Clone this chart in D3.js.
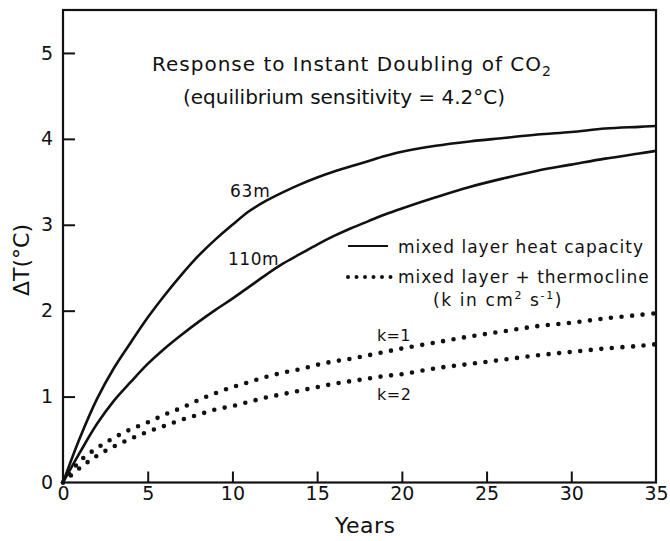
<!DOCTYPE html>
<html><head><meta charset="utf-8">
<script src="https://cdn.jsdelivr.net/npm/d3@7"></script>
<style>
body{margin:0;background:#fff}
text{font-family:"DejaVu Sans",sans-serif;fill:#111}
</style>
</head><body><svg id="c" width="670" height="541"></svg>
<script>
const years    = [0,1,2,3,4,5,6,7,8,9,10,11,12,13,14,15,16,17,18,19,20,22,24,26,28,30,32,34,35];
const mixed63  = [0,0.52,0.97,1.33,1.63,1.92,2.18,2.42,2.64,2.83,3.00,3.16,3.28,3.38,3.47,3.55,3.62,3.68,3.74,3.80,3.85,3.92,3.97,4.01,4.05,4.08,4.12,4.14,4.15];
const mixed110 = [0,0.35,0.68,0.95,1.17,1.38,1.56,1.72,1.87,2.01,2.14,2.28,2.42,2.55,2.66,2.77,2.87,2.96,3.04,3.12,3.19,3.32,3.44,3.54,3.63,3.70,3.77,3.83,3.86];
const thermoK1 = [0,0.25,0.40,0.52,0.62,0.70,0.79,0.87,0.96,1.04,1.11,1.17,1.23,1.28,1.32,1.37,1.41,1.44,1.48,1.52,1.56,1.63,1.70,1.76,1.82,1.86,1.91,1.95,1.97];
const thermoK2 = [0,0.17,0.31,0.42,0.51,0.59,0.66,0.73,0.79,0.85,0.89,0.94,0.99,1.03,1.07,1.11,1.15,1.18,1.21,1.24,1.26,1.33,1.38,1.43,1.48,1.52,1.56,1.59,1.61];
const xTicks = [0,5,10,15,20,25,30,35];
const yTicks = [0,1,2,3,4,5];

const svg = d3.select("#c");
const x = d3.scaleLinear().domain([0,35]).range([63,656]);
const y = d3.scaleLinear().domain([0,5.5]).range([482.5,10]);

// axes
const gy = svg.append("g").attr("transform","translate(63,0)")
  .call(d3.axisLeft(y).tickValues(yTicks).tickFormat(d3.format("d")).tickSize(-12).tickSizeOuter(0).tickPadding(10));
const gx = svg.append("g").attr("transform","translate(0,482.5)")
  .call(d3.axisBottom(x).tickValues(xTicks).tickFormat(d3.format("d")).tickSize(-11).tickSizeOuter(0).tickPadding(4));
[gy,gx].forEach(g=>{
  g.select(".domain").remove();
  g.selectAll(".tick line").attr("stroke","#111").attr("stroke-width",2);
  g.selectAll(".tick text").attr("font-size",19).attr("font-family","DejaVu Sans, sans-serif").attr("fill","#111");
});
gx.selectAll(".tick").filter(d=>d===0||d===35).select("line").remove();
gy.selectAll(".tick").filter(d=>d===0).select("line").remove();

// frame
svg.append("rect").attr("x",x(0)).attr("y",y(5.5)).attr("width",x(35)-x(0)).attr("height",y(0)-y(5.5))
  .attr("fill","none").attr("stroke","#111").attr("stroke-width",2.2);

// lines
const line = d3.line().x((d,i)=>x(years[i])).y(d=>y(d)).curve(d3.curveCatmullRom.alpha(0.5));
[mixed63,mixed110].forEach(s=>{
  svg.append("path").attr("d",line(s)).attr("fill","none").attr("stroke","#111").attr("stroke-width",2.6);
});
[thermoK1,thermoK2].forEach(s=>{
  svg.append("path").attr("d",line(s)).attr("fill","none").attr("stroke","#111")
    .attr("stroke-width",4.6).attr("stroke-linecap","round").attr("stroke-dasharray","0 10.6");
});

// labels
const lab = (t,px,py,fs,opts={})=>{
  const e = svg.append("text").attr("x",px).attr("y",py).attr("font-size",fs).text(t);
  if(opts.ls!==undefined) e.attr("letter-spacing",opts.ls);
  if(opts.anchor) e.attr("text-anchor",opts.anchor);
  return e;
};
lab("63m",230,197,17,{ls:0.8});
lab("110m",228,265,17,{ls:0.5});
lab("k=1",377,341,16,{ls:0.3});
lab("k=2",377,400,16,{ls:0.5});

// title
const t1 = svg.append("text").attr("x",152).attr("y",71).attr("font-size",20).attr("letter-spacing",1.0);
t1.append("tspan").text("Response to Instant Doubling of CO");
t1.append("tspan").attr("font-size",14).attr("dy",5).text("2");
lab("(equilibrium sensitivity = 4.2°C)",183,104,20,{ls:0});

// legend
svg.append("line").attr("x1",348).attr("x2",388).attr("y1",246).attr("y2",246).attr("stroke","#111").attr("stroke-width",2);
svg.append("line").attr("x1",348).attr("x2",391).attr("y1",277).attr("y2",277).attr("stroke","#111")
  .attr("stroke-width",4).attr("stroke-linecap","round").attr("stroke-dasharray","0 8.5");
lab("mixed layer heat capacity",398,253,17,{ls:1.0});
lab("mixed layer + thermocline",398,283,17,{ls:1.0});
const t3 = svg.append("text").attr("x",433).attr("y",306).attr("font-size",17).attr("letter-spacing",1.6);
t3.append("tspan").text("(k  in  cm");
t3.append("tspan").attr("font-size",11).attr("dy",-7).text("2");
t3.append("tspan").attr("dy",7).text(" s");
t3.append("tspan").attr("font-size",11).attr("dy",-7).text("-1");
t3.append("tspan").attr("dy",7).text(")");

// axis titles
lab("Years",335,533,22,{ls:0.5});
svg.append("text").attr("transform","translate(29,260) rotate(-90)").attr("text-anchor","middle")
  .attr("font-size",22).text("ΔT(°C)");
</script>
</body></html>
